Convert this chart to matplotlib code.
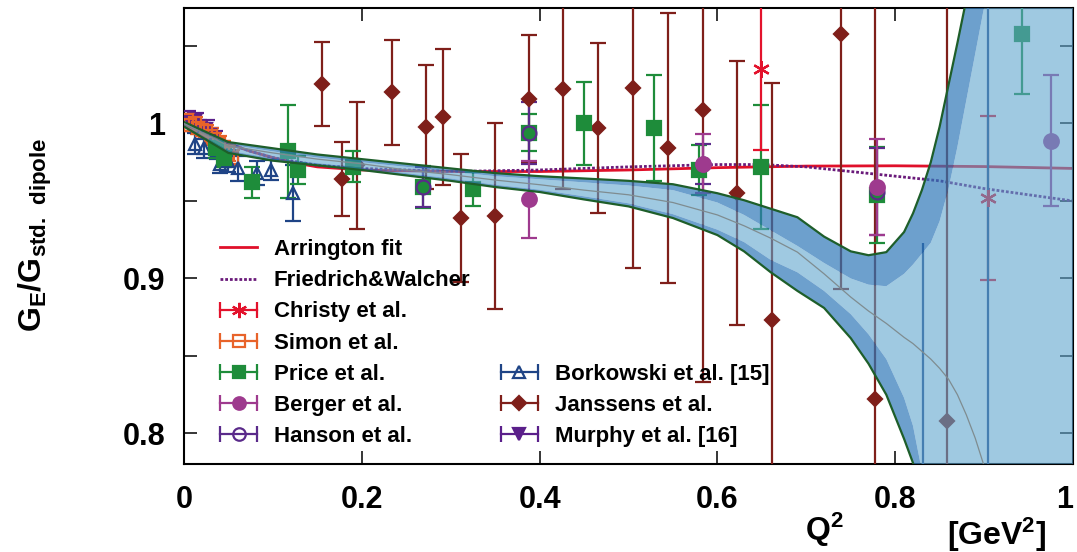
import numpy as np
import matplotlib.pyplot as plt
from matplotlib.lines import Line2D
from matplotlib.legend_handler import HandlerLine2D

plt.rcParams['font.family'] = ['Liberation Sans', 'DejaVu Sans']
plt.rcParams['font.weight'] = 'bold'
plt.rcParams['mathtext.fontset'] = 'custom'
plt.rcParams['mathtext.rm'] = 'Liberation Sans'
plt.rcParams['mathtext.bf'] = 'Liberation Sans:bold'

# ---- values ----
# fit band: sampled Q2 and the five edges (outer/inner upper, centre, inner/outer lower)
band_q2 = [0.0, 0.05, 0.1, 0.15, 0.2, 0.25, 0.3, 0.35, 0.4, 0.45, 0.5, 0.55, 0.6, 0.63,
           0.66, 0.69, 0.72, 0.75, 0.77, 0.79, 0.81, 0.82, 0.83, 0.84, 0.85, 0.86, 0.87,
           0.88, 0.89, 0.9, 0.91, 0.95, 1.0]
band_up_out = [1.001, 0.988, 0.984, 0.980, 0.977, 0.974, 0.971, 0.968, 0.966, 0.9645, 0.963,
               0.9608, 0.955, 0.9505, 0.945, 0.9395, 0.927, 0.9175, 0.915, 0.917, 0.930,
               0.942, 0.957, 0.975, 0.998, 1.025, 1.052, 1.080, 1.11, 1.14, 1.17, 1.3, 1.4]
band_up_in = [0.999, 0.9865, 0.982, 0.978, 0.975, 0.972, 0.969, 0.966, 0.964, 0.962, 0.960,
              0.957, 0.949, 0.941, 0.931, 0.921, 0.910, 0.900, 0.896, 0.895, 0.903, 0.909,
              0.916, 0.923, 0.937, 0.958, 0.985, 1.015, 1.045, 1.075, 1.11, 1.25, 1.4]
band_mid = [1.0, 0.9855, 0.981, 0.977, 0.974, 0.970, 0.967, 0.9635, 0.9605, 0.957, 0.954,
            0.949, 0.941, 0.934, 0.926, 0.917, 0.903, 0.888, 0.879, 0.871, 0.862, 0.858,
            0.853, 0.848, 0.842, 0.835, 0.825, 0.812, 0.797, 0.779, 0.76, 0.65, 0.5]
band_lo_in = [0.999, 0.9825, 0.9775, 0.9745, 0.9715, 0.968, 0.9645, 0.9605, 0.9573, 0.953,
              0.9485, 0.9415, 0.9315, 0.9235, 0.912, 0.904, 0.892, 0.877, 0.864, 0.848,
              0.823, 0.805, 0.776, 0.745, 0.71, 0.68, 0.65, 0.62, 0.6, 0.6, 0.6, 0.5, 0.5]
band_lo_out = [0.998, 0.981, 0.976, 0.973, 0.970, 0.9665, 0.963, 0.959, 0.9558, 0.951, 0.9465,
               0.939, 0.928, 0.9175, 0.904, 0.892, 0.881, 0.8615, 0.845, 0.825, 0.7965, 0.781,
               0.76, 0.735, 0.70, 0.67, 0.64, 0.61, 0.6, 0.6, 0.6, 0.5, 0.5]

arr_q2 = [0.0, 0.025, 0.05, 0.075, 0.1, 0.125, 0.15, 0.2, 0.3, 0.4, 0.5, 0.6, 0.7, 0.8, 0.9, 1.0]
arr_ge = [1.0, 0.993, 0.987, 0.982, 0.978, 0.9745, 0.972, 0.970, 0.969, 0.969, 0.970, 0.9715,
          0.9725, 0.9727, 0.9722, 0.971]

fw_q2 = [0.0, 0.025, 0.05, 0.075, 0.1, 0.15, 0.2, 0.3, 0.4, 0.5, 0.6, 0.65, 0.7, 0.75, 0.8,
         0.85, 0.9, 0.95, 1.0]
fw_ge = [1.0, 0.993, 0.987, 0.982, 0.978, 0.973, 0.971, 0.969, 0.970, 0.972, 0.9735, 0.9735,
         0.972, 0.969, 0.966, 0.963, 0.958, 0.954, 0.950]

christy_q2 = [0.649, 0.904]
christy_ge = [1.035, 0.952]
christy_err = [0.052, 0.053]

simon_q2 = [0.003, 0.007, 0.012, 0.016, 0.020, 0.025, 0.030, 0.034, 0.039, 0.044, 0.049, 0.054]
simon_ge = [1.002, 0.999, 1.000, 0.997, 0.996, 0.995, 0.992, 0.990, 0.987, 0.985, 0.981, 0.978]
simon_err = [0.004, 0.004, 0.004, 0.004, 0.004, 0.004, 0.005, 0.004, 0.005, 0.004, 0.005, 0.005]

price_q2 = [0.036, 0.045, 0.076, 0.117, 0.128, 0.190, 0.269, 0.325, 0.388, 0.450, 0.529,
            0.579, 0.649, 0.780, 0.943]
price_ge = [0.984, 0.978, 0.962, 0.982, 0.970, 0.972, 0.959, 0.958, 0.994, 1.000, 0.997,
            0.970, 0.972, 0.954, 1.058]
price_err = [0.006, 0.006, 0.010, 0.030, 0.009, 0.010, 0.0135, 0.011, 0.012, 0.027, 0.034,
             0.016, 0.040, 0.031, 0.039]

berger_q2 = [0.388, 0.584, 0.780, 0.975]
berger_ge = [0.951, 0.974, 0.959, 0.989]
berger_err = [0.025, 0.019, 0.031, 0.042]

hanson_q2 = [0.269, 0.388, 0.584, 0.780]
hanson_ge = [0.959, 0.994, 0.974, 0.956]
hanson_err = [0.013, 0.020, 0.013, 0.028]

bork_q2 = [0.012, 0.022, 0.037, 0.040, 0.050, 0.061, 0.082, 0.098, 0.123]
bork_ge = [0.987, 0.984, 0.983, 0.974, 0.976, 0.971, 0.968, 0.970, 0.955]
bork_err = [0.007, 0.006, 0.006, 0.006, 0.007, 0.008, 0.008, 0.0065, 0.018]
bork_far_q2 = [0.831, 0.904]
bork_far_lo = [0.60, 0.60]
bork_far_hi = [0.923, 1.10]

jans_q2 = [0.155, 0.178, 0.195, 0.234, 0.272, 0.291, 0.312, 0.350, 0.388, 0.426, 0.466,
           0.505, 0.544, 0.584, 0.622, 0.661, 0.739, 0.777, 0.858]
jans_ge = [1.0255, 0.964, 0.973, 1.020, 0.998, 1.004, 0.939, 0.940, 1.016, 1.022, 0.997,
           1.023, 0.984, 1.009, 0.955, 0.873, 1.058, 0.822, 0.808]
jans_err = [0.027, 0.024, 0.041, 0.034, 0.040, 0.044, 0.041, 0.060, 0.041, 0.064, 0.055,
            0.116, 0.087, 0.176, 0.085, 0.153, 0.165, 0.30, 0.28]

murphy_q2 = [0.005, 0.009, 0.013, 0.017, 0.021, 0.026, 0.030, 0.035]
murphy_ge = [1.003, 0.999, 1.002, 0.998, 0.996, 0.997, 0.993, 0.991]
murphy_err = [0.005, 0.004, 0.005, 0.004, 0.004, 0.005, 0.004, 0.004]

xtick_vals = [0, 0.2, 0.4, 0.6, 0.8, 1.0]
xtick_labels = ['0', '0.2', '0.4', '0.6', '0.8', '1']
ytick_vals = [0.8, 0.85, 0.9, 0.95, 1.0, 1.05]
ytick_labels = ['0.8', '', '0.9', '', '1', '']

# colours
c_arr = '#e0102a'
c_fw = '#6a1a7a'
c_christy = '#e3122c'
c_simon = '#e8632a'
c_price = '#1e8c3a'
c_berger = '#9e3a8e'
c_hanson = '#5a2a8a'
c_bork = '#1f4486'
c_jans = '#7f1f1a'
c_murphy = '#5a1f8a'

fig = plt.figure(figsize=(10.77, 5.52), dpi=100)
ax = fig.add_axes([0.1708, 0.1594, 0.8255, 0.8261])

ax.plot(arr_q2, arr_ge, color=c_arr, lw=2, zorder=2)
ax.plot(fw_q2, fw_ge, color=c_fw, lw=2, ls=(0, (1, 0.7)), zorder=2)


def draw_set(q2, ge, err, color, marker, ms, mfc=None, z=3):
    ax.errorbar(q2, ge, yerr=err, marker=marker, ls='none', color=color, ms=ms,
                mfc=color if mfc is None else mfc, mec=color, mew=1.6,
                elinewidth=1.6, capsize=5.5, capthick=1.6, zorder=z)


draw_set(jans_q2, jans_ge, jans_err, c_jans, 'D', 7.5)
draw_set(murphy_q2, murphy_ge, murphy_err, c_murphy, 'v', 7)
draw_set(simon_q2, simon_ge, simon_err, c_simon, 's', 8, 'none')
draw_set(bork_q2, bork_ge, bork_err, c_bork, '^', 9, 'none')
draw_set(price_q2, price_ge, price_err, c_price, 's', 10.5)
draw_set(hanson_q2, hanson_ge, hanson_err, c_hanson, 'o', 10, 'none')
draw_set(berger_q2, berger_ge, berger_err, c_berger, 'o', 10.5)
draw_set(christy_q2, christy_ge, christy_err, c_christy, (6, 2, 0), 12)
ax.vlines(bork_far_q2, bork_far_lo, bork_far_hi, color=c_bork, lw=1.6, zorder=3)

# fit band drawn translucent over the data
ax.fill_between(band_q2, band_lo_in, band_up_in, color='#5fa5ce', alpha=0.6, lw=0, zorder=5)
ax.fill_between(band_q2, band_up_in, band_up_out, color='#2f78b8', alpha=0.7, lw=0, zorder=5)
ax.fill_between(band_q2, band_lo_out, band_lo_in, color='#2f78b8', alpha=0.7, lw=0, zorder=5)
ax.plot(band_q2, band_up_out, color='#1e5e2a', lw=1.6, zorder=6)
ax.plot(band_q2, band_lo_out, color='#1e5e2a', lw=1.6, zorder=6)
ax.plot(band_q2, band_mid, color='#7f8c90', lw=0.9, zorder=6)

ax.set_xlim(0, 1)
ax.set_ylim(0.7803, 1.0745)
ax.set_xticks(xtick_vals, xtick_labels)
ax.set_yticks(ytick_vals, ytick_labels)
ax.tick_params(direction='in', top=True, right=True, length=9.5, width=1.1, labelsize=22)
ax.tick_params(axis='x', pad=15)
ax.tick_params(axis='y', pad=13.5)
ax.get_xticklabels()[-1].set_horizontalalignment('right')
for s in ax.spines.values():
    s.set_linewidth(1.5)

fig.text(0.0325, 0.574, r'$\mathbf{G_E/G_{std.\ dipole}}$', rotation=90,
         ha='center', va='center', fontsize=23)
ax.text(0.72, -0.145, r'$\mathbf{Q^2}$', transform=ax.transAxes,
        ha='center', va='center', fontsize=23)
ax.text(0.9145, -0.155, r'$\mathbf{[GeV^2]}$', transform=ax.transAxes,
        ha='center', va='center', fontsize=23)

# legend in the gnuplot style: |--marker--|
cap_handlers = {}


def legend_handle(color, marker, ms, mfc=None):
    main = Line2D([], [], color=color, lw=1.6, marker=marker, ms=ms,
                  mfc=color if mfc is None else mfc, mec=color, mew=1.6)
    caps = Line2D([], [], color=color, ls='none', marker='|', ms=12, mew=1.6)
    cap_handlers[caps] = HandlerLine2D(numpoints=2, marker_pad=0)
    return (main, caps)


blank = Line2D([], [], ls='none')
handles = [
    Line2D([], [], color=c_arr, lw=2),
    Line2D([], [], color=c_fw, lw=2, ls=(0, (1, 0.7))),
    legend_handle(c_christy, (6, 2, 0), 11),
    legend_handle(c_simon, 's', 8, 'none'),
    legend_handle(c_price, 's', 9),
    legend_handle(c_berger, 'o', 9),
    legend_handle(c_hanson, 'o', 9, 'none'),
    blank, blank, blank, blank,
    legend_handle(c_bork, '^', 9, 'none'),
    legend_handle(c_jans, 'D', 7),
    legend_handle(c_murphy, 'v', 8),
]
labels = ['Arrington fit', 'Friedrich&Walcher', 'Christy et al.', 'Simon et al.',
          'Price et al.', 'Berger et al.', 'Hanson et al.', '', '', '', '',
          'Borkowski et al. [15]', 'Janssens et al.', 'Murphy et al. [16]']
leg = ax.legend(handles, labels, ncol=2, loc='upper left', bbox_to_anchor=(0.0405, 0.493),
                frameon=False, fontsize=16, handlelength=1.67, handletextpad=0.76,
                columnspacing=1.35, labelspacing=0.455, borderpad=0, borderaxespad=0,
                handler_map=cap_handlers)
leg.set_zorder(10)

fig.savefig('out.png', dpi=100)
